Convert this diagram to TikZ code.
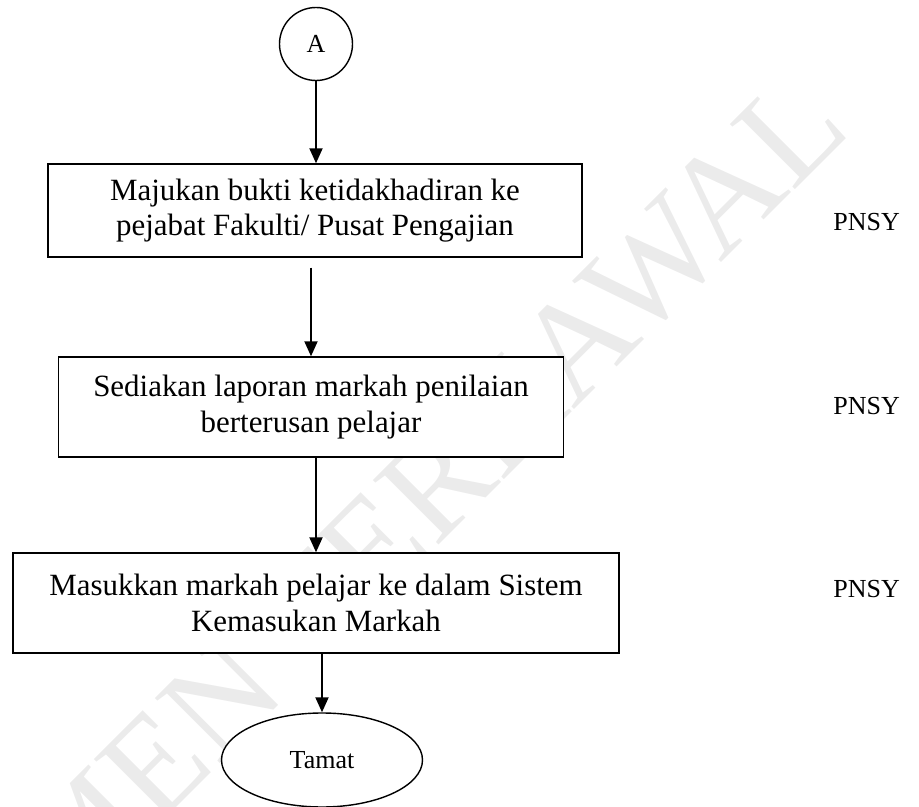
\documentclass[tikz,border=0pt]{standalone}
\usepackage{fontspec}
\setmainfont{Liberation Serif}
\usetikzlibrary{arrows.meta,shapes.geometric}

\begin{document}
\begin{tikzpicture}[
  box/.style={draw,thick,fill=white,align=center,inner sep=0pt,font=\fontsize{17.6}{20.2}\selectfont},
  flow/.style={line width=1.1pt,-{Triangle[length=3mm,width=2.6mm]}},
  role/.style={anchor=west,inner sep=0pt,font=\fontsize{14.8}{17}\selectfont}]
\useasboundingbox (0,0) rectangle (18.38,-16.14);
% watermark behind everything
\node[rotate=45,text=black!8,inner sep=0pt,font=\fontsize{80}{80}\selectfont] (mark) at (5.70,-12.70) {DOKUMEN TERKAWAL};
\node[draw,thick,circle,fill=white,minimum size=1.46cm,inner sep=0pt,font=\fontsize{14.8}{17}\selectfont] (A) at (6.32,-0.88) {A};
\node[box,minimum width=10.68cm,minimum height=1.86cm] (b1) at (6.30,-4.21) {Majukan bukti ketidakhadiran ke\\pejabat Fakulti/ Pusat Pengajian};
\node[box,minimum width=10.10cm,minimum height=2.00cm] (b2) at (6.22,-8.14) {Sediakan laporan markah penilaian\\berterusan pelajar};
\node[box,minimum width=12.12cm,minimum height=2.00cm] (b3) at (6.32,-12.06) {Masukkan markah pelajar ke dalam Sistem\\Kemasukan Markah};
\node[draw,thick,ellipse,fill=white,minimum width=4.02cm,minimum height=1.88cm,inner sep=0pt,font=\fontsize{14.8}{17}\selectfont] (end) at (6.44,-15.20) {Tamat};
% who does each step
\node[role] (r1) at (16.66,-4.44) {PNSY};
\node[role] (r2) at (16.66,-8.12) {PNSY};
\node[role] (r3) at (16.66,-11.78) {PNSY};
\draw[flow] (A) -- (A |- b1.north);
\draw[flow,shorten <=2mm] (b1.south -| b2.north) -- (b2.north);
\draw[flow] (b2.south -| b3.north) -- (b3.north);
\draw[flow] (b3.south -| end.north) -- (end.north);
\end{tikzpicture}
\end{document}
